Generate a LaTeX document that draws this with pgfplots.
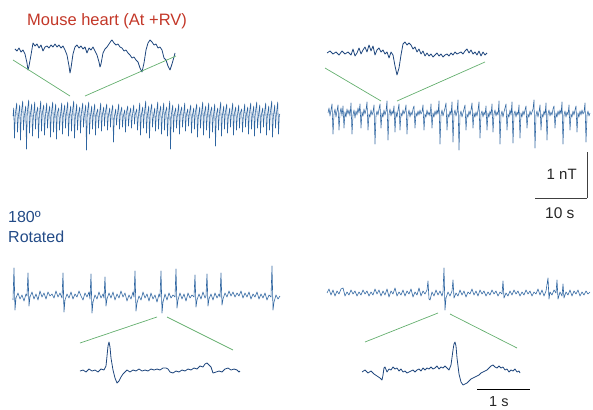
\documentclass[border=0pt]{standalone}
\usepackage{fontspec}
\setmainfont{Liberation Sans}
\usepackage{pgfplots}
\pgfplotsset{compat=1.18}
\definecolor{trc}{RGB}{45,100,160}
\definecolor{trd}{RGB}{30,70,125}
\definecolor{grn}{RGB}{100,175,110}
\definecolor{redt}{RGB}{195,55,40}
\definecolor{bluet}{RGB}{35,75,135}
\begin{document}
\begin{tikzpicture}
\begin{axis}[
  scale only axis, width=593pt, height=409pt,
  xmin=0, xmax=593, ymin=0, ymax=409, y dir=reverse,
  axis lines=none, clip=false, ticks=none,
  every axis plot/.append style={mark=none, line join=round},
]
\coordinate (TL) at (axis cs:0,0);
\coordinate (BR) at (axis cs:593,409);
% ---------------- long trace 1 (top left)
\addplot[trc, line width=0.55pt] coordinates {
(13,116)(13.7,108)(14.5,138)(15.3,114)(16.7,103)(17.5,132)(18.3,117)(19.7,105)(20.5,140)(21.3,113)
(22.7,101)(23.5,130)(24.3,116)(25.7,106)(26.5,149)(27.3,112)(28.7,100)(29.5,133)(30.3,115)(31.7,104)
(32.5,136)(33.3,118)(34.7,102)(35.5,129)(36.3,114)(37.7,107)(38.5,138)(39.3,116)(40.7,101)(41.5,131)
(42.3,113)(43.7,105)(44.5,135)(45.3,117)(46.7,103)(47.5,128)(48.3,115)(49.7,106)(50.5,137)(51.3,114)
(52.7,102)(53.5,132)(54.3,116)(55.7,104)(56.5,139)(57.3,113)(58.7,108)(59.5,130)(60.3,117)(61.7,103)
(62.5,134)(63.3,115)(64.7,105)(65.5,128)(66.3,114)(67.7,102)(68.5,136)(69.3,116)(70.7,106)(71.5,131)
(72.3,113)(73.7,101)(74.5,138)(75.3,117)(76.7,104)(77.5,130)(78.3,115)(79.7,107)(80.5,133)(81.3,114)
(82.7,103)(83.5,127)(84.3,116)(85.7,105)(86.5,150)(87.3,113)(88.7,102)(89.5,134)(90.3,117)(91.7,106)
(92.5,129)(93.3,115)(94.7,104)(95.5,135)(96.3,114)(97.7,109)(98.5,128)(99.3,116)(100.7,103)(101.5,131)
(102.3,115)(103.7,107)(104.5,126)(105.3,113)(106.7,104)(107.5,130)(108.3,116)(109.7,108)(110.5,127)(111.3,114)
(112.7,105)(113.5,142)(114.3,117)(115.7,109)(116.5,125)(117.3,115)(118.7,104)(119.5,129)(120.3,114)(121.7,107)
(122.5,127)(123.3,116)(124.7,110)(125.5,132)(126.3,113)(127.7,106)(128.5,126)(129.3,115)(130.7,108)(131.5,128)
(132.3,116)(133.7,105)(134.5,124)(135.3,114)(136.7,109)(137.5,130)(138.3,117)(139.7,103)(140.5,135)(141.3,115)
(142.7,107)(143.5,128)(144.3,114)(145.7,101)(146.5,133)(147.3,116)(148.7,106)(149.5,138)(150.3,113)(151.7,104)
(152.5,127)(153.3,117)(154.7,108)(155.5,131)(156.3,115)(157.7,102)(158.5,129)(159.3,114)(160.7,106)(161.5,134)
(162.3,116)(163.7,103)(164.5,130)(165.3,113)(166.7,107)(167.5,136)(168.3,117)(169.7,101)(170.5,149)(171.3,115)
(172.7,105)(173.5,132)(174.3,114)(175.7,108)(176.5,128)(177.3,116)(178.7,104)(179.5,134)(180.3,113)(181.7,107)
(182.5,127)(183.3,117)(184.7,103)(185.5,131)(186.3,115)(187.7,109)(188.5,126)(189.3,114)(190.7,105)(191.5,133)
(192.3,116)(193.7,108)(194.5,129)(195.3,113)(196.7,104)(197.5,137)(198.3,117)(199.7,107)(200.5,128)(201.3,115)
(202.7,102)(203.5,135)(204.3,114)(205.7,106)(206.5,130)(207.3,116)(208.7,103)(209.5,138)(210.3,113)(211.7,107)
(212.5,132)(213.3,117)(214.7,104)(215.5,146)(216.3,115)(217.7,108)(218.5,130)(219.3,114)(220.7,102)(221.5,136)
(222.3,116)(223.7,106)(224.5,129)(225.3,113)(226.7,104)(227.5,133)(228.3,117)(229.7,108)(230.5,127)(231.3,115)
(232.7,103)(233.5,135)(234.3,114)(235.7,107)(236.5,130)(237.3,116)(238.7,105)(239.5,128)(240.3,113)(241.7,109)
(242.5,132)(243.3,117)(244.7,104)(245.5,127)(246.3,115)(247.7,107)(248.5,134)(249.3,114)(250.7,103)(251.5,129)
(252.3,116)(253.7,106)(254.5,136)(255.3,113)(256.7,102)(257.5,128)(258.3,117)(259.7,105)(260.5,133)(261.3,115)
(262.7,108)(263.5,127)(264.3,114)(265.7,103)(266.5,135)(267.3,116)(268.7,106)(269.5,130)(270.3,113)(271.7,101)
(272.5,137)(273.3,117)(274.7,105)(275.5,128)(276.3,115)(277.7,102)(278.5,134)(279.3,115)(280,114)
};
% ---------------- long trace 2 (top right)
\addplot[trc, line width=0.55pt] coordinates {
(328,113)(329,108)(330,116)(331,110)(332,104)(333,134)(334,114)(335,109)(336,117)(337,111)(338,105)(339,130)
(340,113)(341,108)(342,116)(343,106)(344,128)(345,112)(346,117)(347,109)(348,114)(349,110)(350,116)(351,103)
(352,134)(353,115)(354,110)(355,118)(356,111)(357,115)(358,108)(359,113)(360,104)(361,128)(362,112)(363,116)
(364,109)(365,114)(366,110)(367,102)(368,130)(369,114)(370,117)(371,110)(372,115)(373,112)(374,105)(375,144)
(376,116)(377,111)(378,115)(379,109)(380,104)(381,128)(382,113)(383,117)(384,110)(385,115)(386,111)(387,101)
(388,140)(389,114)(390,109)(391,116)(392,111)(393,114)(394,106)(395,132)(396,112)(397,117)(398,110)(399,104)
(400,130)(401,113)(402,116)(403,110)(404,114)(405,111)(406,105)(407,134)(408,115)(409,110)(410,117)(411,112)
(412,115)(413,109)(414,106)(415,128)(416,113)(417,116)(418,111)(419,115)(420,110)(421,114)(422,112)(423,105)
(424,130)(425,114)(426,117)(427,110)(428,115)(429,112)(430,116)(431,104)(432,128)(433,113)(434,117)(435,111)
(436,115)(437,110)(438,114)(439,101)(440,144)(441,115)(442,110)(443,116)(444,112)(445,108)(446,103)(447,130)
(448,114)(449,117)(450,111)(451,115)(452,102)(453,142)(454,114)(455,110)(456,116)(457,112)(458,100)(459,150)
(460,115)(461,111)(462,117)(463,113)(464,109)(465,105)(466,130)(467,114)(468,117)(469,111)(470,115)(471,110)
(472,103)(473,128)(474,113)(475,117)(476,112)(477,116)(478,110)(479,102)(480,138)(481,114)(482,111)(483,117)
(484,112)(485,115)(486,106)(487,130)(488,113)(489,117)(490,111)(491,115)(492,104)(493,132)(494,114)(495,110)
(496,116)(497,112)(498,115)(499,101)(500,144)(501,115)(502,111)(503,117)(504,112)(505,108)(506,104)(507,130)
(508,114)(509,117)(510,110)(511,115)(512,102)(513,143)(514,114)(515,111)(516,117)(517,112)(518,115)(519,105)
(520,138)(521,113)(522,117)(523,111)(524,115)(525,110)(526,106)(527,128)(528,114)(529,117)(530,111)(531,115)
(532,112)(533,109)(534,100)(535,148)(536,115)(537,111)(538,117)(539,112)(540,105)(541,130)(542,114)(543,117)
(544,111)(545,115)(546,103)(547,140)(548,114)(549,110)(550,116)(551,112)(552,115)(553,109)(554,106)(555,128)
(556,113)(557,117)(558,111)(559,115)(560,110)(561,114)(562,102)(563,144)(564,115)(565,111)(566,117)(567,112)
(568,115)(569,105)(570,130)(571,114)(572,117)(573,111)(574,115)(575,110)(576,106)(577,132)(578,113)(579,117)
(580,111)(581,115)(582,110)(583,114)(584,112)(585,103)(586,142)(587,115)(588,111)(589,116)(590,113)
};
% ---------------- long trace 3 (bottom left)
\addplot[trc, line width=0.6pt] coordinates {
(13,300)(14,268)(15,310)(16,298)(18,293)(20,299)(22,295)(24,301)(26,294)(27,296)(28,273)(29,306)(30,297)
(32,292)(34,299)(36,294)(38,300)(40,291)(42,297)(44,293)(46,299)(48,292)(50,296)(52,294)(54,298)(56,291)
(58,297)(60,293)(62,298)(63,273)(64,312)(65,300)(67,294)(69,298)(71,292)(73,299)(75,294)(77,297)(79,291)
(81,296)(83,300)(85,293)(87,297)(89,292)(90,299)(91,274)(92,313)(93,302)(95,295)(97,299)(99,292)(101,298)
(103,294)(104,298)(105,277)(106,306)(107,299)(109,293)(111,298)(113,292)(115,300)(117,294)(119,298)(121,291)
(123,297)(125,293)(127,301)(129,295)(131,299)(133,292)(134,297)(135,271)(136,311)(137,303)(139,296)(141,300)
(143,292)(145,298)(147,294)(149,301)(151,293)(153,299)(155,295)(157,302)(159,294)(160,297)(161,271)(162,313)
(163,302)(165,294)(167,300)(169,293)(171,298)(173,295)(175,297)(176,269)(177,308)(178,300)(180,293)(182,299)
(184,294)(186,301)(188,293)(190,298)(192,295)(194,297)(195,275)(196,307)(197,300)(199,294)(201,299)(203,292)
(205,298)(206,296)(207,274)(208,306)(209,299)(211,294)(213,300)(215,293)(217,298)(219,294)(220,297)(221,273)
(222,305)(223,299)(225,293)(227,297)(229,291)(231,296)(233,292)(235,297)(237,293)(239,296)(241,291)(243,298)
(245,293)(247,297)(249,292)(251,299)(253,294)(255,297)(257,292)(259,299)(261,294)(263,298)(265,293)(267,300)
(269,295)(271,297)(272,266)(273,310)(274,302)(276,295)(278,299)(280,296)
};
% ---------------- long trace 4 (bottom right)
\addplot[trc, line width=0.6pt] coordinates {
(327,293)(329,289)(331,295)(333,290)(335,296)(337,291)(339,294)(341,289)(343,288)(345,296)(347,292)(349,295)
(351,290)(353,294)(355,291)(357,296)(359,292)(361,295)(363,290)(365,294)(367,291)(369,296)(371,292)(373,295)
(375,289)(377,294)(379,290)(381,296)(383,291)(385,295)(387,289)(389,297)(391,291)(393,294)(395,288)(397,296)
(399,292)(401,295)(403,290)(405,296)(407,291)(409,294)(411,289)(413,297)(415,292)(417,295)(419,288)(421,296)
(423,291)(425,294)(427,290)(428,281)(429,299)(430,300)(432,292)(434,296)(436,290)(438,295)(440,291)(442,296)
(443,292)(444,268)(445,310)(446,298)(448,292)(450,296)(452,291)(453,280)(454,298)(456,293)(458,296)(460,290)
(462,295)(464,291)(466,297)(468,292)(470,294)(472,289)(474,295)(476,291)(478,296)(480,290)(482,294)(484,291)
(486,296)(488,292)(490,295)(492,290)(494,294)(496,291)(498,296)(500,292)(502,294)(503,281)(504,298)(506,293)
(508,296)(510,291)(512,295)(514,290)(516,294)(518,291)(520,296)(522,292)(524,295)(526,290)(528,294)(530,291)
(532,296)(534,292)(536,294)(538,289)(540,295)(542,290)(544,296)(546,291)(548,278)(549,299)(550,292)(552,295)
(554,290)(556,293)(557,280)(558,299)(560,292)(562,296)(563,284)(564,298)(566,292)(568,295)(570,290)(572,296)
(574,291)(576,294)(578,290)(580,296)(582,292)(584,295)(586,291)(588,294)(590,292)
};
% ---------------- insets
\addplot[trd, line width=0.8pt] coordinates {
(15,49)(17,51)(19,48)(21,52)(23,50)(25,54)(27,63)(28,70)(29,66)(31,55)(33,43)(35,46)(37,44)(39,48)(41,45)
(43,51)(45,47)(47,46)(49,48)(51,45)(53,47)(55,44)(57,47)(59,45)(61,48)(63,46)(65,50)(67,55)(69,66)(70,73)
(71,68)(73,54)(75,47)(77,45)(79,48)(81,46)(83,49)(85,47)(87,53)(89,48)(91,50)(93,47)(95,51)(97,55)(99,62)
(100,67)(101,64)(103,53)(105,49)(107,47)(109,44)(111,41)(112,40)(114,43)(116,45)(118,44)(120,47)(122,48)
(124,51)(126,50)(128,53)(130,55)(132,58)(134,57)(136,60)(138,62)(140,68)(142,72)(144,63)(146,50)(148,43)
(150,40)(152,42)(154,45)(156,44)(158,48)(160,47)(162,50)(164,58)(166,60)(168,66)(170,70)(172,64)(174,57)(175,53)
};
\addplot[trd, line width=0.8pt] coordinates {
(327,53)(330,51)(333,54)(336,52)(339,55)(342,51)(345,54)(348,52)(351,55)(353,49)(355,56)(357,53)(359,48)
(361,54)(363,50)(365,47)(367,52)(369,45)(371,51)(373,46)(375,55)(377,50)(379,48)(381,52)(383,50)(385,54)
(387,52)(389,58)(391,52)(393,55)(395,66)(397,75)(399,68)(401,55)(403,44)(405,42)(407,45)(409,43)(411,45)
(413,49)(415,47)(417,52)(419,49)(421,54)(423,51)(425,56)(427,53)(429,56)(431,54)(433,57)(435,55)(437,53)
(439,56)(441,54)(443,57)(445,55)(447,54)(449,56)(451,53)(453,55)(455,52)(457,54)(459,53)(461,52)(463,54)
(465,51)(467,49)(469,53)(471,50)(473,54)(475,52)(477,55)(479,51)(481,56)(483,52)(485,55)(487,53)
};
\addplot[trd, line width=0.8pt] coordinates {
(80,371)(83,370)(86,372)(89,369)(92,371)(95,370)(98,372)(101,369)(104,370)(106,366)(107,356)(108,346)(109,342)
(110,347)(111,358)(113,370)(115,378)(117,383)(119,381)(121,377)(123,374)(125,372)(127,370)(130,372)(133,370)
(136,371)(139,369)(142,371)(145,370)(148,371)(151,369)(154,370)(157,369)(160,370)(163,368)(166,368)(168,369)
(170,372)(173,373)(176,371)(179,372)(182,370)(185,371)(188,369)(191,370)(194,368)(197,369)(200,366)(203,367)
(205,364)(207,363)(209,365)(211,367)(213,373)(216,372)(219,371)(222,372)(225,369)(228,368)(231,370)(234,369)
(237,370)(239,372)(240,371)
};
\addplot[trd, line width=0.8pt] coordinates {
(362,372)(365,370)(368,373)(371,371)(374,374)(377,376)(380,378)(382,380)(383,375)(384,368)(385,367)(387,372)
(389,369)(391,370)(393,367)(395,369)(397,368)(399,371)(401,369)(403,372)(405,371)(407,373)(409,372)(411,371)
(413,370)(415,372)(417,370)(419,369)(421,371)(423,368)(425,370)(427,368)(429,369)(431,367)(433,369)(435,368)
(437,366)(439,369)(441,367)(443,368)(445,366)(447,368)(449,370)(451,365)(453,350)(454,344)(455,342)(456,346)
(457,358)(459,374)(461,382)(463,385)(465,384)(467,383)(469,381)(471,379)(473,378)(475,377)(477,376)(479,375)
(481,373)(483,372)(485,371)(487,370)(489,368)(491,366)(493,365)(495,367)(497,368)(499,366)(501,368)(503,367)
(505,370)(507,369)(509,372)(511,370)(513,371)(515,369)(517,372)(519,371)(520,373)
};
% ---------------- green connectors
\addplot[grn, line width=0.7pt] coordinates {(13,60)(70,96)};
\addplot[grn, line width=0.7pt] coordinates {(85,96)(176,56)};
\addplot[grn, line width=0.7pt] coordinates {(325,68)(381,101)};
\addplot[grn, line width=0.7pt] coordinates {(397,101)(485,62)};
\addplot[grn, line width=0.7pt] coordinates {(80,343)(157,317)};
\addplot[grn, line width=0.7pt] coordinates {(167,317)(233,350)};
\addplot[grn, line width=0.7pt] coordinates {(365,342)(438,313)};
\addplot[grn, line width=0.7pt] coordinates {(450,314)(517,348)};
% ---------------- scale bars
\addplot[black!75, line width=0.7pt] coordinates {(587,152)(587,198)};
\addplot[black!75, line width=0.7pt] coordinates {(535,198)(587,198)};
\addplot[black, line width=0.8pt] coordinates {(477,389)(530,389)};
% ---------------- texts
\node[anchor=base west, inner sep=0pt, text=redt, font=\fontsize{16.5}{19}\selectfont] at (axis cs:27,26) {Mouse heart (At +RV)};
\node[anchor=base west, inner sep=0pt, text=bluet, font=\fontsize{16}{19}\selectfont] at (axis cs:8,222.5) {180º};
\node[anchor=base west, inner sep=0pt, text=bluet, font=\fontsize{16}{19}\selectfont] at (axis cs:8,242.5) {Rotated};
\node[anchor=base west, inner sep=0pt, text=black!85, font=\fontsize{15}{18}\selectfont] at (axis cs:546.5,179) {1 nT};
\node[anchor=base west, inner sep=0pt, text=black!85, font=\fontsize{15.5}{18}\selectfont] at (axis cs:545,218) {10 s};
\node[anchor=base west, inner sep=0pt, text=black!85, font=\fontsize{14.5}{17}\selectfont] at (axis cs:489,406.5) {1 s};
\end{axis}
\pgfresetboundingbox
\path[use as bounding box] (TL) rectangle (BR);
\end{tikzpicture}
\end{document}
